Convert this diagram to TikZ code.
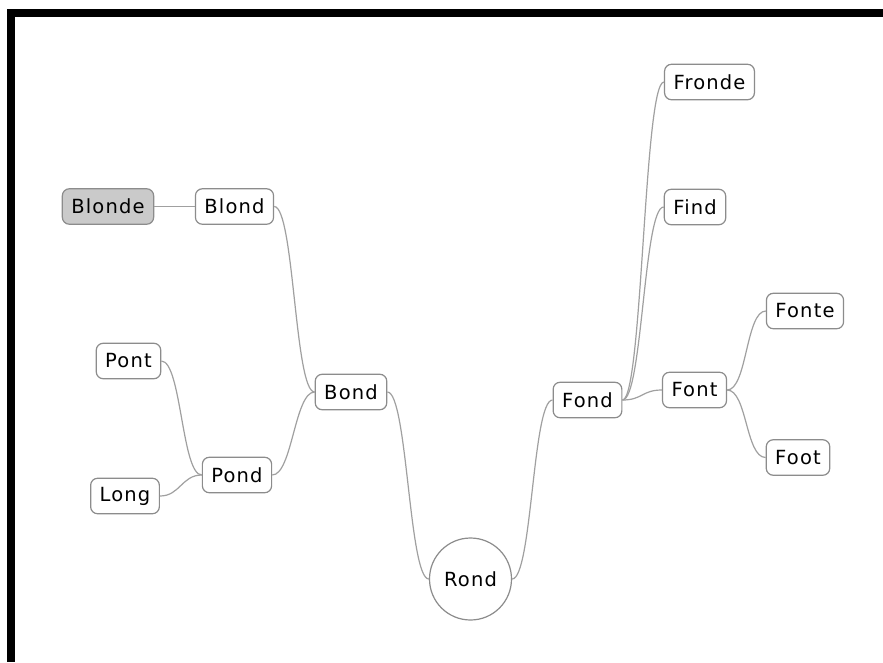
\documentclass[tikz,border=0pt]{standalone}
\usepackage{fontspec}
\setmainfont{DejaVu Sans}[LetterSpace=6]
\begin{document}
\begin{tikzpicture}[x=1pt,y=-1pt,
  topic/.style={draw=boxline, line width=1.2pt, rounded corners=7pt, fill=white,
    inner xsep=9pt, inner ysep=0pt, minimum height=35.5pt,
    font=\fontsize{19.5}{22}\selectfont, text=black},
  selected/.style={topic, fill=selfill},
  root/.style={draw=boxline, line width=1.2pt, circle, fill=white, minimum size=82pt,
    inner sep=0pt, font=\fontsize{19.5}{22}\selectfont},
  branch/.style={draw=linegray, line width=1.2pt}]
\definecolor{boxline}{HTML}{8C8C8C}
\definecolor{linegray}{HTML}{A0A0A0}
\definecolor{selfill}{HTML}{CACACA}

% page frame
\useasboundingbox (0,0) rectangle (883,662);
\fill[white] (0,0) rectangle (883,662);
\fill[black] (7,9) rectangle (883,17);
\fill[black] (7,9) rectangle (15,662);

% topics
\node[root]     (rond)   at (470.5,579) {Rond};
\node[topic]    (bond)   at (351,392)   {Bond};
\node[topic]    (blond)  at (234.5,206.5) {Blond};
\node[selected] (blonde) at (108,206.5) {Blonde};
\node[topic]    (pond)   at (237,475)   {Pond};
\node[topic]    (pont)   at (128.5,361) {Pont};
\node[topic]    (long)   at (125,496)   {Long};
\node[topic]    (fond)   at (587.5,400) {Fond};
\node[topic]    (fronde) at (709.5,82)  {Fronde};
\node[topic]    (find)   at (695,207)   {Find};
\node[topic]    (font)   at (694.5,390) {Font};
\node[topic]    (fonte)  at (805,311)   {Fonte};
\node[topic]    (foot)   at (798,457.5) {Foot};

% branches
\draw[branch] (rond.west) .. controls +(-20,0) and +(20,0) .. (bond.east);
\draw[branch] (bond.west) .. controls +(-20,0) and +(20,0) .. (blond.east);
\draw[branch] (bond.west) .. controls +(-20,0) and +(20,0) .. (pond.east);
\draw[branch] (blond.west) -- (blonde.east);
\draw[branch] (pond.west) .. controls +(-20,0) and +(20,0) .. (pont.east);
\draw[branch] (pond.west) .. controls +(-20,0) and +(20,0) .. (long.east);
\draw[branch] (rond.east) .. controls +(20,0) and +(-20,0) .. (fond.west);
\draw[branch] (fond.east) .. controls +(20,0) and +(-20,0) .. (fronde.west);
\draw[branch] (fond.east) .. controls +(20,0) and +(-20,0) .. (find.west);
\draw[branch] (fond.east) .. controls +(20,0) and +(-20,0) .. (font.west);
\draw[branch] (font.east) .. controls +(20,0) and +(-20,0) .. (fonte.west);
\draw[branch] (font.east) .. controls +(20,0) and +(-20,0) .. (foot.west);
\end{tikzpicture}
\end{document}
